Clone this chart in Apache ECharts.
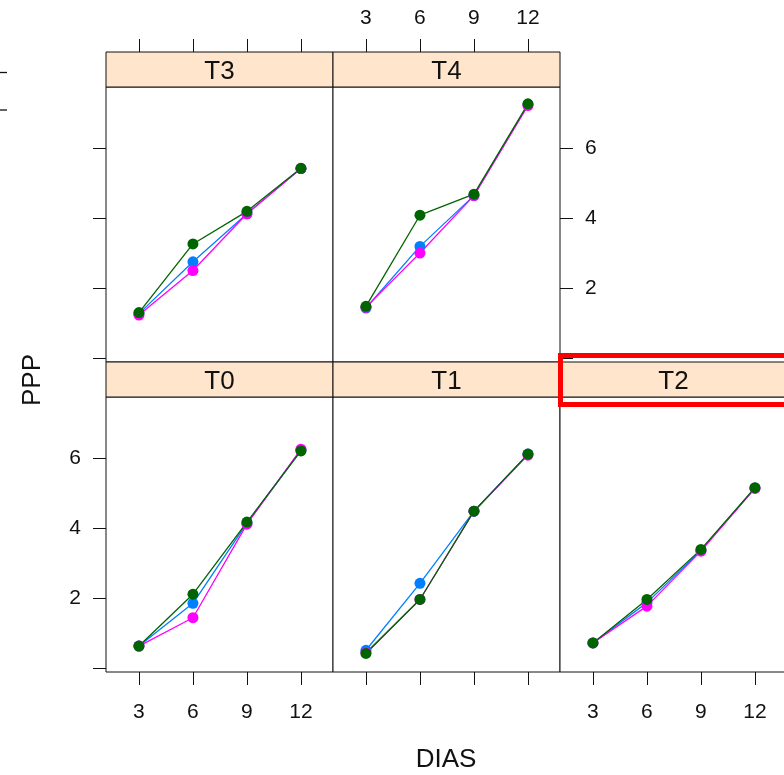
<!DOCTYPE html>
<html>
<head>
<meta charset="utf-8">
<script src="https://cdn.jsdelivr.net/npm/echarts@6/dist/echarts.min.js"></script>
<style>
html, body { margin: 0; padding: 0; background: #fff; }
#chart { width: 784px; height: 775px; }
</style>
</head>
<body>
<div id="chart"></div>
<script>
'use strict';

// valores (PPP por DIAS, un panel por tratamiento)
var dias = [3, 6, 9, 12];
var tratamientos = ['T0', 'T1', 'T2', 'T3', 'T4'];
var ticksY = [0, 2, 4, 6];
var etiquetasY = [2, 4, 6];

var azul = [
    [0.64, 1.86, 4.15, 6.23],
    [0.52, 2.43, 4.49, 6.12],
    [0.73, 1.88, 3.37, 5.15],
    [1.28, 2.76, 4.13, 5.42],
    [1.44, 3.20, 4.65, 7.25]
];
var magenta = [
    [0.64, 1.45, 4.12, 6.26],
    [0.45, 1.97, 4.49, 6.09],
    [0.73, 1.78, 3.35, 5.14],
    [1.24, 2.51, 4.13, 5.42],
    [1.46, 3.01, 4.65, 7.22]
];
var verde = [
    [0.64, 2.12, 4.18, 6.21],
    [0.43, 1.97, 4.49, 6.12],
    [0.73, 1.97, 3.40, 5.16],
    [1.31, 3.27, 4.20, 5.43],
    [1.49, 4.09, 4.69, 7.27]
];
var colores = ['#0080ff', '#ff00ff', '#006400'];

// disposicion de los paneles (columna, fila desde arriba)
var posiciones = [[0, 1], [1, 1], [2, 1], [0, 0], [1, 0]];
var izq = 106, anchoCol = 227, altoStrip = 35, altoPanel = 275, arriba = 52;
var fuente = "'Liberation Sans', Arial, sans-serif";

var grids = [], xAxes = [], yAxes = [], series = [], graficos = [];

function puntos(arr) {
    return dias.map(function (d, j) { return [d, arr[j]]; });
}

for (var i = 0; i < tratamientos.length; i++) {
    var col = posiciones[i][0], fila = posiciones[i][1];
    var x0 = izq + col * anchoCol;
    var yStrip = arriba + fila * (altoStrip + altoPanel);
    grids.push({
        left: x0, top: yStrip + altoStrip, width: anchoCol, height: altoPanel,
        show: true, borderColor: '#111', borderWidth: 1, backgroundColor: '#fff',
        outerBoundsMode: 'none'
    });

    var etiquetaX = (fila == 1 && col != 1) || (fila == 0 && col == 1);
    xAxes.push({
        gridIndex: i, type: 'value', min: 1.17, max: 13.78,
        position: fila == 1 ? 'bottom' : 'top',
        offset: fila == 1 ? 0 : altoStrip,
        axisLine: { show: false, onZero: false },
        splitLine: { show: false },
        axisTick: { show: true, length: 13, lineStyle: { color: '#111', width: 1 }, customValues: dias },
        axisLabel: {
            show: etiquetaX, customValues: dias, margin: fila == 1 ? 30 : 23,
            fontSize: 21, color: '#111', fontFamily: fuente
        }
    });

    var izquierda = col == 0;
    var ultima = (fila == 0 && col == 1) || (fila == 1 && col == 2);
    yAxes.push({
        gridIndex: i, type: 'value', min: -0.1, max: 7.75,
        position: izquierda ? 'left' : 'right',
        axisLine: { show: false, onZero: false },
        splitLine: { show: false },
        axisTick: { show: izquierda || ultima, length: 13, lineStyle: { color: '#111', width: 1 }, customValues: ticksY },
        axisLabel: {
            show: (izquierda && fila == 1) || (ultima && fila == 0),
            customValues: etiquetasY, margin: 25, fontSize: 21, color: '#111', fontFamily: fuente
        }
    });

    [azul, magenta, verde].forEach(function (arr, k) {
        series.push({
            type: 'line', xAxisIndex: i, yAxisIndex: i,
            data: puntos(arr[i]),
            symbol: 'circle', symbolSize: 11,
            lineStyle: { color: colores[k], width: 1.3 },
            itemStyle: { color: colores[k] },
            silent: true
        });
    });

    // franja con el nombre del tratamiento
    graficos.push({
        type: 'rect',
        shape: { x: x0, y: yStrip, width: anchoCol, height: altoStrip },
        style: { fill: '#ffe5cc', stroke: '#111', lineWidth: 1 }
    });
    graficos.push({
        type: 'text', x: x0 + anchoCol / 2, y: yStrip + altoStrip / 2 + 2,
        style: { text: tratamientos[i], fill: '#111', font: '26px ' + fuente, textAlign: 'center', textVerticalAlign: 'middle' }
    });
}

// titulos de ejes
graficos.push({
    type: 'text', x: 33, y: 380, rotation: Math.PI / 2,
    style: { text: 'PPP', fill: '#111', font: '26px ' + fuente, textAlign: 'center', textVerticalAlign: 'middle' }
});
graficos.push({
    type: 'text', x: 446, y: 760,
    style: { text: 'DIAS', fill: '#111', font: '26px ' + fuente, textAlign: 'center', textVerticalAlign: 'middle' }
});
// restos de marcas a la izquierda
graficos.push({ type: 'line', shape: { x1: 0, y1: 72.5, x2: 7, y2: 72.5 }, style: { stroke: '#111', lineWidth: 1.3 } });
graficos.push({ type: 'line', shape: { x1: 0, y1: 110, x2: 7, y2: 110 }, style: { stroke: '#111', lineWidth: 1.3 } });
// recuadro rojo sobre T2
graficos.push({
    type: 'rect', z: 100,
    shape: { x: 560.5, y: 355.5, width: 300, height: 49 },
    style: { fill: 'none', stroke: '#ff0000', lineWidth: 5 }
});

var chart = echarts.init(document.getElementById('chart'));
chart.setOption({
    animation: false,
    backgroundColor: '#fff',
    grid: grids,
    xAxis: xAxes,
    yAxis: yAxes,
    series: series,
    graphic: graficos
});
</script>
</body>
</html>
